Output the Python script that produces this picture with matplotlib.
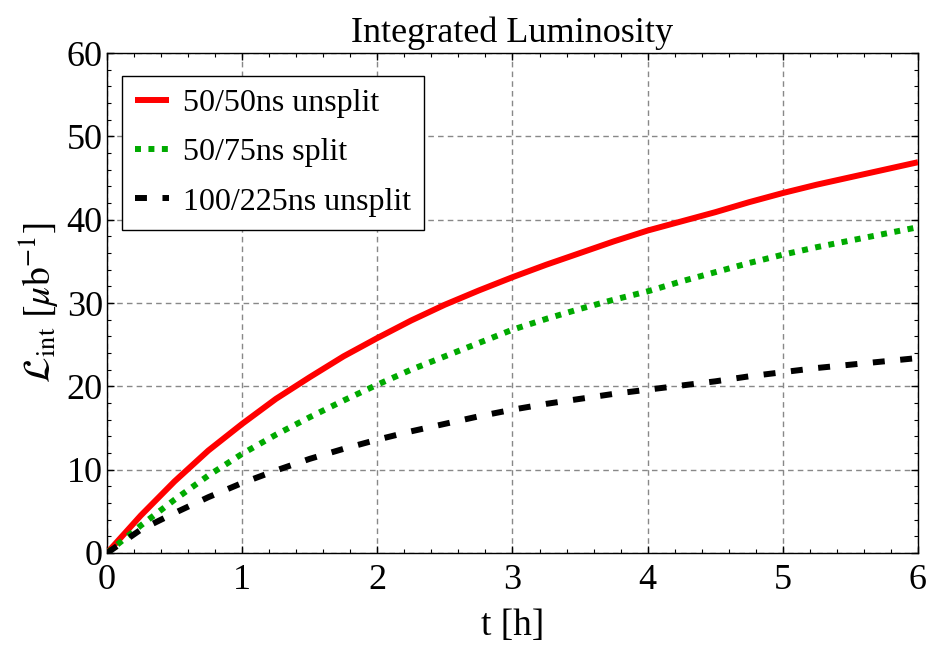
import matplotlib
matplotlib.use("Agg")
import matplotlib.pyplot as plt
from matplotlib.ticker import MultipleLocator

# ---- data ----
t_hours = [0, 0.25, 0.5, 0.75, 1, 1.25, 1.5, 1.75, 2, 2.25, 2.5, 2.75, 3,
           3.25, 3.5, 3.75, 4, 4.25, 4.5, 4.75, 5, 5.25, 5.5, 5.75, 6]
lumi_50_50_unsplit = [0, 4.5, 8.6, 12.3, 15.5, 18.5, 21.1, 23.6, 25.8, 27.9, 29.8, 31.5, 33.1,
                      34.6, 36.0, 37.4, 38.7, 39.8, 40.9, 42.1, 43.2, 44.2, 45.1, 46.0, 46.9]
lumi_50_75_split = [0, 3.3, 6.4, 9.3, 11.9, 14.2, 16.3, 18.3, 20.2, 22.0, 23.6, 25.2, 26.8,
                    28.1, 29.3, 30.4, 31.4, 32.6, 33.7, 34.8, 35.8, 36.7, 37.5, 38.3, 39.1]
lumi_100_225_unsplit = [0, 2.8, 4.8, 6.7, 8.4, 9.9, 11.3, 12.5, 13.6, 14.6, 15.5, 16.4, 17.2,
                        17.9, 18.5, 19.1, 19.6, 20.1, 20.6, 21.2, 21.7, 22.2, 22.6, 23.0, 23.4]
series_labels = ["50/50ns unsplit", "50/75ns split", "100/225ns unsplit"]
x_ticks = [0, 1, 2, 3, 4, 5, 6]
y_ticks = [0, 10, 20, 30, 40, 50, 60]

plt.rcParams['font.family'] = ['Liberation Serif', 'DejaVu Serif']
plt.rcParams['mathtext.fontset'] = 'stix'

fig = plt.figure(figsize=(9.37, 6.47), dpi=100)
ax = fig.add_axes([0.1142, 0.1453, 0.8655, 0.7727])

lw = 4.3
ax.plot(t_hours, lumi_50_50_unsplit, color='#ff0000', lw=lw, solid_capstyle='butt',
        solid_joinstyle='round', label=series_labels[0], zorder=3)
ax.plot(t_hours, lumi_50_75_split, color='#00aa00', lw=lw, linestyle=(0, (1.0, 1.25)),
        dash_capstyle='butt', label=series_labels[1], zorder=3)
ax.plot(t_hours, lumi_100_225_unsplit, color='black', lw=lw, linestyle=(0, (2.0, 2.6)),
        dash_capstyle='butt', label=series_labels[2], zorder=3)

ax.set_xlim(0, 6)
ax.set_ylim(0, 60)
ax.set_xticks(x_ticks)
ax.set_yticks(y_ticks)
ax.xaxis.set_minor_locator(MultipleLocator(0.2))
ax.yaxis.set_minor_locator(MultipleLocator(2))
ax.tick_params(which='both', direction='in', top=True, right=True, labelsize=26)
ax.tick_params(axis='x', pad=8)
ax.tick_params(axis='y', pad=3)
ax.tick_params(which='major', length=5, width=1)
ax.tick_params(which='minor', length=3, width=0.8)

ax.grid(True, which='major', color='#888888', linestyle=(0, (4, 3)), linewidth=1.0, zorder=1)
for s in ax.spines.values():
    s.set_linewidth(1.0)
    s.set_color('black')

ax.set_title('Integrated Luminosity', fontsize=26, pad=8)
ax.set_xlabel('t [h]', fontsize=27, labelpad=8)
ax.set_ylabel(r'$\mathcal{L}_{\mathrm{int}}\ [\mu\mathrm{b}^{-1}]$', fontsize=27, labelpad=4)

leg = ax.legend(loc='upper left', bbox_to_anchor=(0.018, 0.955), fontsize=23,
                frameon=True, fancybox=False, handlelength=1.05, handletextpad=0.45,
                labelspacing=0.62, borderpad=0.42, borderaxespad=0)
leg.get_frame().set_edgecolor('black')
leg.get_frame().set_linewidth(1.0)
leg.get_frame().set_alpha(1)

fig.savefig('out.png', dpi=100)
